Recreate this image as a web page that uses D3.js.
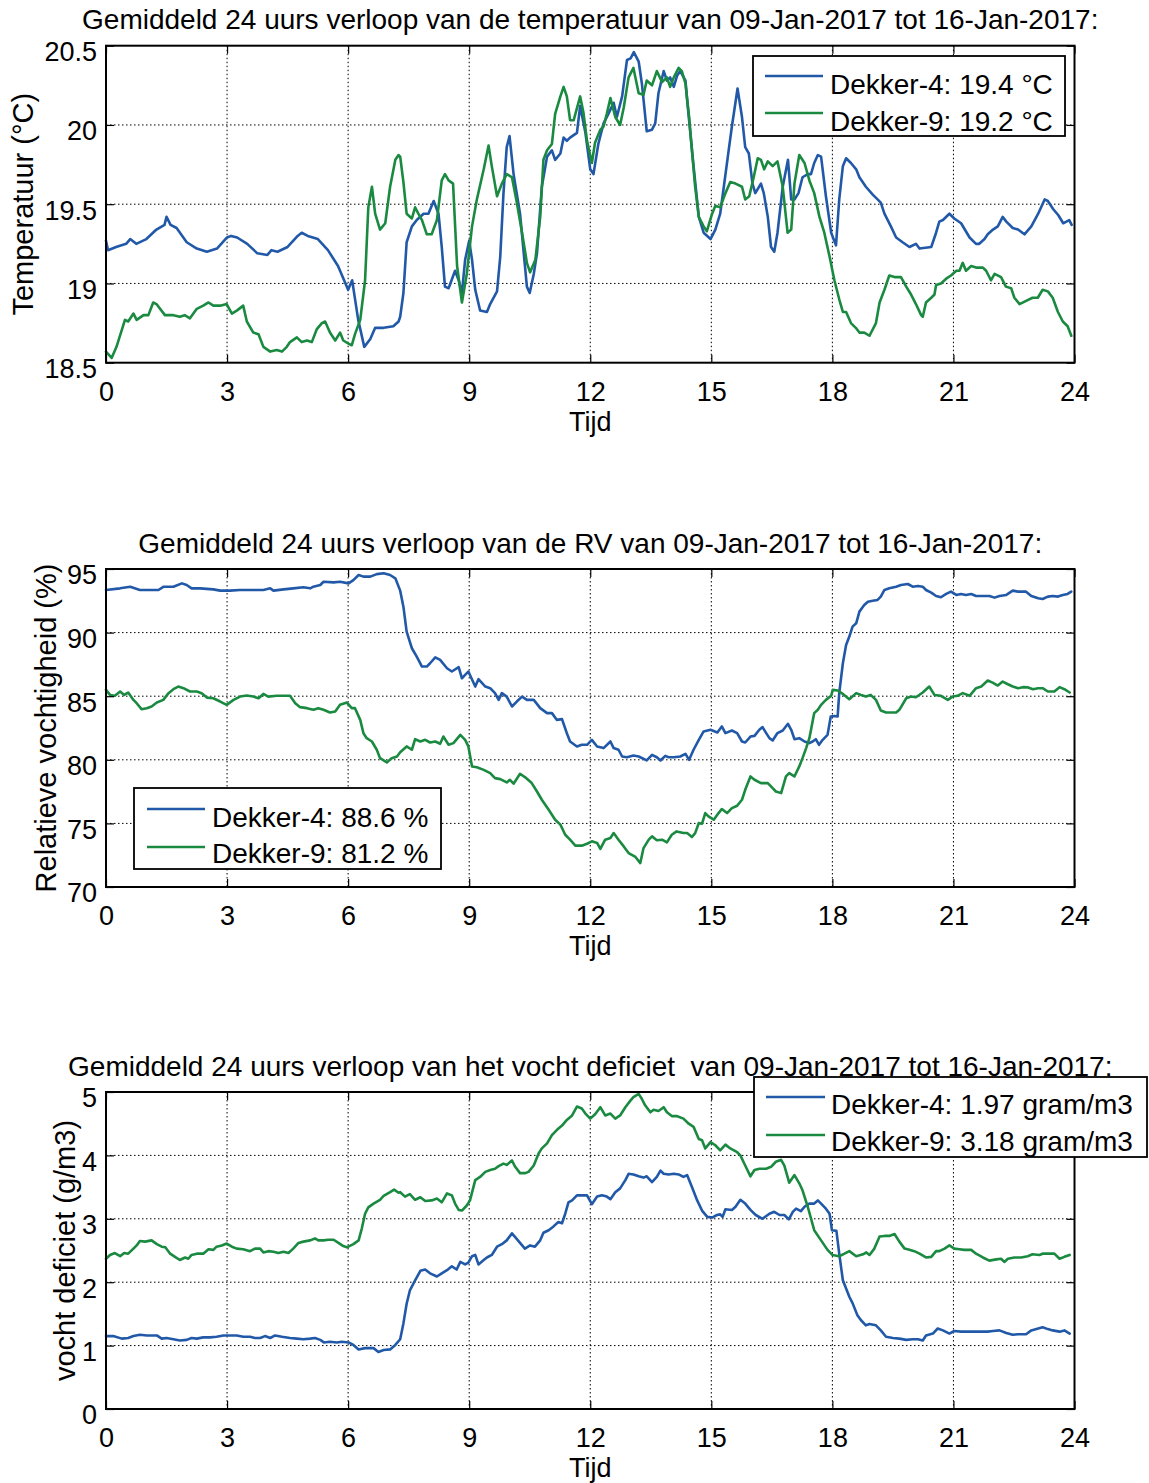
<!DOCTYPE html>
<html><head><meta charset="utf-8">
<script src="https://cdn.jsdelivr.net/npm/d3@7"></script>
<style>
body{margin:0;background:#fff;}
svg text{font-family:"Liberation Sans",Arial,Helvetica,sans-serif;fill:#000;}
</style></head><body><svg id="c" width="1149" height="1483" xmlns="http://www.w3.org/2000/svg"></svg>
<script>
// ---------- DATA ----------
const hourTicks = [0,3,6,9,12,15,18,21,24];
const seriesNames = ["Dekker-4","Dekker-9"];

const titleTemp = "Gemiddeld 24 uurs verloop van de temperatuur van 09-Jan-2017 tot 16-Jan-2017:";
const titleRV = "Gemiddeld 24 uurs verloop van de RV van 09-Jan-2017 tot 16-Jan-2017:";
const titleDef = "Gemiddeld 24 uurs verloop van het vocht deficiet  van 09-Jan-2017 tot 16-Jan-2017:";
const xLabel = "Tijd";
const yLabelTemp = "Temperatuur (°C)";
const yLabelRV = "Relatieve vochtigheid (%)";
const yLabelDef = "vocht deficiet (g/m3)";

const tempTicks = [18.5,19,19.5,20,20.5];
const rvTicks = [70,75,80,85,90,95];
const defTicks = [0,1,2,3,4,5];

const tempLegend = ["Dekker-4: 19.4 °C","Dekker-9: 19.2 °C"];
const rvLegend = ["Dekker-4: 88.6 %","Dekker-9: 81.2 %"];
const defLegend = ["Dekker-4: 1.97 gram/m3","Dekker-9: 3.18 gram/m3"];

// [hour, °C]
const temp4 = [[0,19.27],[0.05,19.21],[0.25,19.23],[0.5,19.25],[0.6,19.28],[0.75,19.25],[1.0,19.28],[1.25,19.34],[1.45,19.37],[1.5,19.42],[1.6,19.37],[1.75,19.35],[2.0,19.26],[2.25,19.22],[2.5,19.20],[2.75,19.22],[3.0,19.29],[3.1,19.3],[3.25,19.29],[3.5,19.25],[3.75,19.19],[4.0,19.18],[4.1,19.21],[4.25,19.20],[4.5,19.23],[4.75,19.30],[4.85,19.32],[5.0,19.30],[5.25,19.28],[5.5,19.21],[5.75,19.11],[6.0,18.96],[6.1,19.02],[6.25,18.77],[6.4,18.60],[6.55,18.65],[6.67,18.72],[6.88,18.72],[7.12,18.73],[7.25,18.76],[7.29,18.79],[7.37,18.94],[7.45,19.26],[7.58,19.36],[7.7,19.40],[7.87,19.44],[7.99,19.44],[8.12,19.52],[8.24,19.44],[8.32,19.23],[8.4,18.98],[8.49,18.97],[8.65,19.08],[8.74,19.02],[8.82,18.94],[8.9,19.15],[9.0,19.27],[9.07,19.15],[9.15,18.96],[9.27,18.83],[9.44,18.82],[9.52,18.87],[9.69,18.95],[9.77,19.17],[9.85,19.57],[9.93,19.86],[10.0,19.93],[10.1,19.69],[10.26,19.44],[10.43,18.98],[10.5,18.94],[10.6,19.06],[10.68,19.19],[10.8,19.61],[10.93,19.80],[11.05,19.84],[11.13,19.78],[11.26,19.82],[11.34,19.92],[11.42,19.90],[11.5,19.92],[11.67,19.95],[11.75,20.12],[11.88,19.95],[12.0,19.72],[12.08,19.69],[12.2,19.88],[12.33,20.01],[12.45,20.07],[12.58,20.14],[12.66,20.05],[12.79,20.18],[12.91,20.41],[13.0,20.42],[13.08,20.46],[13.2,20.40],[13.28,20.26],[13.4,19.96],[13.53,19.97],[13.61,20.01],[13.69,20.20],[13.82,20.34],[13.9,20.28],[13.98,20.30],[14.07,20.24],[14.15,20.31],[14.23,20.34],[14.36,20.28],[14.4,20.16],[14.56,19.74],[14.69,19.42],[14.81,19.32],[14.98,19.28],[15.1,19.34],[15.22,19.44],[15.31,19.61],[15.43,19.84],[15.51,19.99],[15.65,20.23],[15.76,20.05],[15.84,19.86],[15.93,19.82],[16.02,19.63],[16.09,19.57],[16.23,19.63],[16.3,19.57],[16.4,19.42],[16.48,19.23],[16.56,19.20],[16.64,19.32],[16.77,19.61],[16.9,19.78],[16.98,19.53],[17.06,19.53],[17.16,19.57],[17.26,19.67],[17.39,19.69],[17.47,19.69],[17.55,19.76],[17.64,19.81],[17.72,19.80],[17.84,19.55],[17.97,19.32],[18.09,19.24],[18.17,19.53],[18.26,19.74],[18.34,19.79],[18.46,19.76],[18.59,19.72],[18.67,19.67],[18.83,19.61],[19.0,19.56],[19.12,19.53],[19.2,19.51],[19.29,19.44],[19.45,19.36],[19.58,19.29],[19.74,19.26],[19.91,19.23],[20.07,19.25],[20.16,19.22],[20.45,19.23],[20.57,19.32],[20.65,19.39],[20.74,19.40],[20.9,19.44],[21.02,19.41],[21.19,19.38],[21.4,19.29],[21.56,19.25],[21.64,19.25],[21.77,19.28],[21.85,19.31],[21.98,19.34],[22.1,19.36],[22.22,19.42],[22.31,19.39],[22.47,19.35],[22.6,19.34],[22.76,19.31],[22.93,19.36],[23.1,19.44],[23.26,19.53],[23.34,19.52],[23.47,19.47],[23.6,19.43],[23.72,19.38],[23.8,19.39],[23.87,19.40],[23.93,19.37]];
const temp9 = [[0,18.57],[0.14,18.53],[0.26,18.60],[0.47,18.77],[0.55,18.76],[0.68,18.81],[0.76,18.77],[0.93,18.80],[1.05,18.80],[1.17,18.88],[1.25,18.87],[1.46,18.80],[1.67,18.80],[1.83,18.79],[1.95,18.80],[2.08,18.78],[2.25,18.84],[2.41,18.86],[2.54,18.88],[2.66,18.86],[2.83,18.86],[2.99,18.87],[3.12,18.81],[3.25,18.83],[3.4,18.86],[3.49,18.76],[3.65,18.69],[3.78,18.68],[3.9,18.60],[4.07,18.57],[4.23,18.58],[4.36,18.57],[4.48,18.60],[4.56,18.63],[4.73,18.66],[4.85,18.63],[4.98,18.64],[5.1,18.63],[5.22,18.71],[5.35,18.75],[5.43,18.76],[5.55,18.69],[5.68,18.64],[5.8,18.69],[5.88,18.64],[6.01,18.62],[6.09,18.61],[6.17,18.68],[6.3,18.77],[6.42,19.02],[6.5,19.48],[6.59,19.61],[6.67,19.44],[6.79,19.34],[6.92,19.38],[7.04,19.61],[7.17,19.78],[7.25,19.81],[7.29,19.80],[7.37,19.64],[7.45,19.44],[7.58,19.41],[7.66,19.48],[7.74,19.44],[7.83,19.40],[7.95,19.31],[8.07,19.31],[8.2,19.40],[8.32,19.65],[8.4,19.69],[8.49,19.65],[8.6,19.63],[8.7,19.11],[8.82,18.88],[8.94,19.06],[9.07,19.36],[9.19,19.53],[9.36,19.72],[9.48,19.87],[9.56,19.74],[9.69,19.55],[9.81,19.63],[9.93,19.69],[10.06,19.67],[10.18,19.51],[10.31,19.32],[10.43,19.13],[10.51,19.07],[10.64,19.15],[10.76,19.42],[10.84,19.78],[10.93,19.84],[11.05,19.88],[11.13,20.07],[11.26,20.18],[11.34,20.24],[11.42,20.18],[11.5,20.03],[11.59,20.03],[11.75,20.18],[11.83,20.08],[11.92,19.90],[12.04,19.76],[12.12,19.89],[12.25,19.97],[12.33,19.99],[12.41,20.07],[12.5,20.17],[12.62,20.05],[12.74,20.00],[12.83,20.11],[12.95,20.30],[13.07,20.36],[13.2,20.20],[13.32,20.19],[13.4,20.28],[13.53,20.25],[13.65,20.34],[13.78,20.27],[13.9,20.30],[13.98,20.24],[14.07,20.30],[14.19,20.36],[14.27,20.34],[14.36,20.26],[14.45,20.05],[14.52,19.84],[14.6,19.61],[14.69,19.42],[14.81,19.36],[14.89,19.33],[15.02,19.44],[15.1,19.49],[15.22,19.48],[15.35,19.57],[15.47,19.64],[15.6,19.63],[15.76,19.61],[15.84,19.53],[15.94,19.55],[16.05,19.67],[16.15,19.79],[16.23,19.78],[16.31,19.72],[16.4,19.77],[16.52,19.74],[16.64,19.77],[16.77,19.61],[16.89,19.32],[16.98,19.34],[17.06,19.63],[17.18,19.81],[17.31,19.76],[17.43,19.65],[17.55,19.57],[17.68,19.42],[17.8,19.32],[17.93,19.17],[18.05,19.02],[18.17,18.90],[18.26,18.82],[18.34,18.82],[18.46,18.75],[18.58,18.72],[18.67,18.69],[18.79,18.69],[18.92,18.67],[19.08,18.75],[19.17,18.88],[19.29,18.96],[19.41,19.05],[19.54,19.04],[19.7,19.04],[19.83,18.98],[19.95,18.93],[20.07,18.87],[20.2,18.80],[20.24,18.79],[20.32,18.88],[20.45,18.91],[20.53,18.93],[20.57,18.99],[20.69,19.0],[20.82,19.03],[20.94,19.05],[21.07,19.08],[21.15,19.08],[21.23,19.13],[21.31,19.08],[21.44,19.11],[21.56,19.10],[21.73,19.10],[21.81,19.08],[21.93,19.02],[22.02,19.06],[22.18,19.04],[22.3,18.98],[22.43,18.97],[22.51,18.91],[22.64,18.87],[22.8,18.89],[22.96,18.91],[23.09,18.91],[23.21,18.96],[23.34,18.95],[23.46,18.91],[23.59,18.82],[23.71,18.76],[23.83,18.73],[23.92,18.67]];

// [hour, %]
const rv4 = [[0,93.35],[0.35,93.48],[0.6,93.6],[0.84,93.35],[1.09,93.35],[1.3,93.35],[1.42,93.6],[1.67,93.6],[1.88,93.87],[2.0,93.74],[2.12,93.48],[2.33,93.48],[2.66,93.4],[2.83,93.3],[3.07,93.3],[3.32,93.35],[3.65,93.35],[3.9,93.35],[4.07,93.48],[4.15,93.3],[4.4,93.4],[4.64,93.48],[4.89,93.56],[5.06,93.48],[5.14,93.61],[5.31,93.74],[5.39,94.0],[5.64,93.95],[5.8,94.0],[6.01,93.87],[6.13,94.13],[6.26,94.53],[6.38,94.4],[6.55,94.4],[6.71,94.6],[6.88,94.66],[7.04,94.53],[7.17,94.27],[7.29,93.3],[7.37,92.04],[7.45,90.08],[7.58,88.77],[7.7,88.11],[7.83,87.33],[7.95,87.33],[8.03,87.59],[8.16,88.06],[8.28,87.85],[8.45,87.2],[8.57,86.94],[8.74,87.28],[8.82,86.41],[8.9,86.67],[8.98,86.94],[9.15,85.76],[9.23,86.34],[9.4,85.76],[9.52,85.63],[9.64,85.24],[9.73,84.71],[9.81,85.24],[9.93,84.97],[10.06,84.19],[10.18,84.58],[10.31,84.97],[10.43,84.71],[10.6,84.71],[10.76,84.06],[10.93,83.67],[11.05,83.67],[11.17,83.14],[11.3,83.2],[11.42,82.09],[11.5,81.44],[11.67,81.05],[11.79,81.18],[11.92,81.18],[12.04,81.57],[12.17,81.05],[12.33,80.92],[12.5,81.44],[12.58,80.92],[12.7,80.79],[12.79,80.26],[12.91,80.2],[13.07,80.34],[13.2,80.26],[13.4,79.95],[13.53,80.39],[13.65,80.2],[13.74,79.95],[13.86,80.31],[13.94,80.2],[14.07,80.2],[14.23,80.26],[14.36,80.47],[14.45,80.0],[14.56,80.79],[14.69,81.57],[14.81,82.23],[14.98,82.36],[15.15,82.15],[15.26,82.62],[15.35,82.1],[15.51,82.3],[15.64,82.1],[15.76,81.44],[15.84,81.36],[15.97,81.83],[16.07,81.88],[16.19,82.36],[16.27,82.57],[16.36,82.1],[16.44,81.7],[16.52,81.52],[16.64,82.1],[16.77,82.3],[16.9,82.83],[16.98,82.36],[17.06,81.62],[17.18,81.7],[17.31,81.44],[17.43,81.31],[17.51,81.44],[17.59,81.62],[17.67,81.18],[17.76,81.57],[17.88,81.96],[17.96,83.4],[18.05,83.45],[18.13,83.4],[18.17,85.24],[18.26,87.59],[18.34,89.03],[18.42,89.69],[18.5,90.47],[18.59,90.73],[18.67,91.65],[18.79,92.17],[18.88,92.43],[19.0,92.5],[19.12,92.57],[19.2,92.83],[19.29,93.35],[19.41,93.48],[19.58,93.61],[19.7,93.74],[19.87,93.82],[19.99,93.61],[20.12,93.67],[20.24,93.61],[20.32,93.35],[20.45,93.14],[20.57,92.88],[20.69,92.78],[20.82,93.04],[20.94,93.22],[21.07,92.96],[21.19,93.04],[21.31,92.96],[21.44,93.04],[21.56,92.88],[21.73,92.88],[21.89,92.88],[22.02,92.75],[22.14,92.88],[22.31,92.96],[22.47,93.3],[22.6,93.22],[22.8,93.22],[22.93,92.88],[23.1,92.7],[23.21,92.64],[23.34,92.83],[23.46,92.88],[23.59,92.83],[23.71,92.96],[23.83,93.04],[23.92,93.22]];
const rv9 = [[0,85.5],[0.1,85.1],[0.22,85.03],[0.35,85.37],[0.45,85.1],[0.55,85.29],[0.68,84.71],[0.76,84.45],[0.88,83.98],[1.01,84.06],[1.13,84.19],[1.26,84.5],[1.42,84.71],[1.55,85.24],[1.67,85.55],[1.79,85.76],[1.92,85.63],[2.08,85.37],[2.25,85.37],[2.37,85.24],[2.5,84.89],[2.66,84.84],[2.83,84.58],[2.99,84.32],[3.16,84.71],[3.32,84.97],[3.49,85.05],[3.65,84.97],[3.78,84.84],[3.9,85.18],[4.02,84.97],[4.23,85.03],[4.4,85.03],[4.56,85.03],[4.69,84.45],[4.81,84.14],[4.98,84.06],[5.14,83.93],[5.26,84.06],[5.39,83.93],[5.55,83.72],[5.68,83.8],[5.8,84.32],[5.97,84.5],[6.09,84.06],[6.17,84.06],[6.3,83.14],[6.38,82.09],[6.46,81.7],[6.59,81.44],[6.71,80.79],[6.79,80.13],[6.96,79.79],[7.08,80.13],[7.21,80.26],[7.29,80.6],[7.45,81.05],[7.58,80.79],[7.66,81.62],[7.79,81.44],[7.91,81.57],[8.03,81.36],[8.16,81.44],[8.28,81.26],[8.36,81.83],[8.49,81.18],[8.61,81.31],[8.78,81.96],[8.9,81.57],[8.98,81.05],[9.07,79.48],[9.19,79.42],[9.36,79.21],[9.52,78.95],[9.64,78.56],[9.77,78.48],[9.93,78.22],[10.01,78.43],[10.1,78.12],[10.26,78.9],[10.38,78.64],[10.55,78.17],[10.68,77.51],[10.8,76.86],[10.97,76.07],[11.13,75.29],[11.26,74.9],[11.38,74.11],[11.5,73.72],[11.63,73.25],[11.79,73.25],[11.92,73.4],[12.04,73.59],[12.17,73.46],[12.25,73.0],[12.37,73.72],[12.5,73.85],[12.58,74.24],[12.7,73.72],[12.83,73.19],[12.95,72.67],[13.12,72.36],[13.24,71.88],[13.32,73.06],[13.45,73.72],[13.53,73.98],[13.65,73.67],[13.78,73.72],[13.9,73.51],[14.02,74.11],[14.14,74.37],[14.31,74.24],[14.4,74.24],[14.52,73.93],[14.6,74.24],[14.69,75.03],[14.77,74.98],[14.85,75.81],[14.93,75.55],[15.06,75.29],[15.18,75.81],[15.26,76.13],[15.39,75.81],[15.51,76.2],[15.64,76.39],[15.76,76.86],[15.84,77.64],[15.97,78.69],[16.07,78.43],[16.23,78.17],[16.4,78.17],[16.52,77.77],[16.6,77.51],[16.73,77.38],[16.85,78.69],[16.93,78.95],[17.06,78.69],[17.18,79.48],[17.26,80.13],[17.35,80.92],[17.43,81.7],[17.55,83.67],[17.64,83.93],[17.72,84.32],[17.84,84.71],[17.97,85.03],[18.01,85.5],[18.13,85.45],[18.26,85.18],[18.42,84.76],[18.59,85.24],[18.71,85.1],[18.83,84.97],[18.95,85.1],[19.08,84.71],[19.2,83.87],[19.33,83.72],[19.58,83.72],[19.66,83.93],[19.83,84.84],[19.95,84.97],[20.07,84.92],[20.24,85.29],[20.4,85.76],[20.53,85.1],[20.69,85.03],[20.86,84.71],[20.98,84.97],[21.1,85.03],[21.23,85.24],[21.4,85.03],[21.56,85.63],[21.69,85.76],[21.85,86.23],[21.97,86.07],[22.1,85.84],[22.22,86.15],[22.35,85.94],[22.47,85.76],[22.6,85.63],[22.72,85.71],[22.85,85.69],[22.97,85.55],[23.1,85.63],[23.21,85.63],[23.34,85.37],[23.5,85.37],[23.63,85.71],[23.75,85.55],[23.88,85.29]];

// [hour, g/m3]
const def4 = [[0,1.15],[0.18,1.15],[0.39,1.11],[0.55,1.12],[0.68,1.15],[0.84,1.17],[1.01,1.16],[1.26,1.16],[1.38,1.11],[1.5,1.12],[1.67,1.10],[1.83,1.08],[2.0,1.09],[2.12,1.12],[2.25,1.11],[2.41,1.13],[2.58,1.13],[2.74,1.14],[2.91,1.16],[3.07,1.16],[3.24,1.16],[3.4,1.14],[3.57,1.14],[3.69,1.12],[3.82,1.12],[3.94,1.15],[4.07,1.12],[4.19,1.16],[4.36,1.14],[4.56,1.12],[4.73,1.11],[4.89,1.10],[5.06,1.11],[5.18,1.12],[5.31,1.09],[5.4,1.05],[5.55,1.06],[5.72,1.05],[5.84,1.06],[6.01,1.05],[6.13,1.01],[6.26,0.94],[6.42,0.96],[6.63,0.96],[6.75,0.90],[6.88,0.93],[7.04,0.94],[7.17,1.01],[7.29,1.10],[7.37,1.35],[7.45,1.66],[7.53,1.87],[7.66,2.03],[7.79,2.18],[7.91,2.20],[8.03,2.14],[8.2,2.09],[8.32,2.14],[8.45,2.19],[8.57,2.25],[8.69,2.20],[8.78,2.32],[8.9,2.28],[8.98,2.31],[9.07,2.41],[9.15,2.43],[9.23,2.28],[9.36,2.35],[9.44,2.39],[9.56,2.43],[9.69,2.56],[9.81,2.60],[9.93,2.66],[10.06,2.77],[10.14,2.71],[10.26,2.62],[10.38,2.53],[10.51,2.58],[10.63,2.56],[10.76,2.66],[10.84,2.78],[10.97,2.82],[11.09,2.88],[11.21,2.95],[11.3,2.93],[11.38,3.08],[11.46,3.26],[11.55,3.29],[11.67,3.37],[11.79,3.37],[11.92,3.37],[12.04,3.23],[12.17,3.35],[12.29,3.37],[12.41,3.35],[12.5,3.31],[12.62,3.42],[12.74,3.48],[12.87,3.61],[12.95,3.71],[13.07,3.70],[13.2,3.67],[13.32,3.65],[13.4,3.67],[13.53,3.58],[13.65,3.66],[13.74,3.76],[13.82,3.71],[13.94,3.70],[14.07,3.71],[14.19,3.70],[14.31,3.66],[14.4,3.69],[14.52,3.50],[14.65,3.29],[14.77,3.13],[14.9,3.03],[15.02,3.02],[15.14,3.06],[15.22,3.07],[15.28,3.03],[15.35,3.15],[15.51,3.14],[15.6,3.19],[15.72,3.30],[15.84,3.24],[15.97,3.14],[16.1,3.06],[16.27,3.0],[16.44,3.08],[16.56,3.11],[16.69,3.06],[16.81,3.06],[16.92,2.99],[17.02,3.11],[17.1,3.16],[17.22,3.12],[17.31,3.19],[17.43,3.24],[17.55,3.24],[17.64,3.29],[17.72,3.24],[17.84,3.16],[17.93,3.08],[17.99,2.82],[18.1,2.81],[18.17,2.45],[18.26,2.03],[18.34,1.90],[18.42,1.77],[18.5,1.67],[18.62,1.48],[18.71,1.40],[18.83,1.32],[18.92,1.34],[19.08,1.32],[19.2,1.24],[19.33,1.14],[19.5,1.12],[19.66,1.11],[19.83,1.09],[19.99,1.10],[20.12,1.10],[20.24,1.08],[20.32,1.16],[20.49,1.19],[20.61,1.27],[20.74,1.24],[20.9,1.19],[21.02,1.23],[21.19,1.22],[21.4,1.22],[21.64,1.22],[21.85,1.22],[21.98,1.23],[22.14,1.24],[22.31,1.20],[22.47,1.17],[22.6,1.18],[22.8,1.18],[22.93,1.24],[23.1,1.27],[23.21,1.29],[23.34,1.26],[23.46,1.24],[23.63,1.22],[23.75,1.24],[23.88,1.19]];
const def9 = [[0,2.37],[0.1,2.43],[0.22,2.46],[0.35,2.41],[0.45,2.46],[0.55,2.45],[0.68,2.53],[0.76,2.58],[0.84,2.65],[0.97,2.64],[1.13,2.66],[1.26,2.60],[1.38,2.56],[1.47,2.55],[1.59,2.45],[1.71,2.40],[1.83,2.35],[1.96,2.39],[2.04,2.37],[2.12,2.43],[2.25,2.45],[2.41,2.45],[2.54,2.52],[2.66,2.51],[2.74,2.56],[2.87,2.58],[2.99,2.61],[3.12,2.56],[3.24,2.53],[3.4,2.52],[3.57,2.49],[3.69,2.53],[3.82,2.53],[3.9,2.47],[4.02,2.49],[4.15,2.48],[4.27,2.46],[4.4,2.48],[4.52,2.46],[4.64,2.53],[4.77,2.62],[4.89,2.64],[5.06,2.66],[5.18,2.69],[5.26,2.66],[5.39,2.66],[5.51,2.67],[5.64,2.67],[5.76,2.62],[5.88,2.57],[5.97,2.55],[6.13,2.60],[6.26,2.66],[6.34,2.85],[6.42,3.08],[6.5,3.18],[6.63,3.24],[6.79,3.30],[6.88,3.36],[7.04,3.42],[7.14,3.46],[7.25,3.41],[7.29,3.42],[7.41,3.35],[7.53,3.39],[7.66,3.30],[7.79,3.34],[7.91,3.28],[8.07,3.29],[8.2,3.32],[8.32,3.26],[8.45,3.40],[8.57,3.37],[8.65,3.24],[8.74,3.14],[8.82,3.13],[8.94,3.21],[9.02,3.29],[9.15,3.61],[9.27,3.66],[9.4,3.74],[9.52,3.77],[9.64,3.79],[9.73,3.83],[9.85,3.87],[9.93,3.85],[10.06,3.92],[10.14,3.82],[10.26,3.72],[10.38,3.72],[10.47,3.74],[10.6,3.84],[10.72,4.03],[10.8,4.11],[10.93,4.19],[11.05,4.32],[11.17,4.40],[11.3,4.47],[11.42,4.56],[11.55,4.63],[11.67,4.77],[11.79,4.74],[11.88,4.66],[12.0,4.58],[12.12,4.65],[12.25,4.76],[12.37,4.63],[12.5,4.66],[12.62,4.58],[12.74,4.63],[12.87,4.76],[12.99,4.86],[13.07,4.92],[13.2,4.97],[13.28,4.89],[13.36,4.79],[13.49,4.68],[13.57,4.72],[13.69,4.70],[13.82,4.76],[13.9,4.68],[14.02,4.62],[14.14,4.62],[14.31,4.58],[14.44,4.50],[14.56,4.45],[14.69,4.26],[14.77,4.24],[14.85,4.11],[14.98,4.21],[15.1,4.16],[15.22,4.08],[15.35,4.17],[15.47,4.11],[15.64,4.05],[15.72,4.0],[15.84,3.84],[15.97,3.67],[16.07,3.77],[16.19,3.79],[16.36,3.79],[16.48,3.82],[16.6,3.90],[16.73,3.93],[16.81,3.84],[16.93,3.57],[17.06,3.69],[17.18,3.56],[17.26,3.45],[17.39,3.19],[17.55,2.82],[17.72,2.66],[17.88,2.51],[18.0,2.43],[18.17,2.41],[18.3,2.45],[18.42,2.49],[18.59,2.41],[18.76,2.44],[18.84,2.47],[18.92,2.43],[19.04,2.53],[19.17,2.72],[19.29,2.73],[19.41,2.73],[19.54,2.76],[19.66,2.64],[19.79,2.53],[19.91,2.51],[20.03,2.49],[20.16,2.45],[20.32,2.39],[20.45,2.40],[20.57,2.49],[20.65,2.49],[20.78,2.53],[20.9,2.58],[21.02,2.53],[21.15,2.52],[21.27,2.51],[21.44,2.51],[21.56,2.45],[21.73,2.39],[21.89,2.34],[22.06,2.36],[22.18,2.37],[22.26,2.32],[22.35,2.37],[22.51,2.39],[22.68,2.39],[22.84,2.41],[22.96,2.44],[23.13,2.43],[23.21,2.45],[23.34,2.45],[23.5,2.45],[23.63,2.37],[23.75,2.40],[23.88,2.43]];

// ---------- LAYOUT / STYLE ----------
const COLORS = ["#2159a8", "#1b8a41"];
const FONT_TICK = 27, FONT_TITLE = 28, FONT_XLABEL = 27, FONT_YLABEL = 29, FONT_LEGEND = 28;
const L = 106, R = 1074.5;
const svg = d3.select("#c");
const x = d3.scaleLinear().domain([0, 24]).range([L, R]);

const panels = [
  {top:45.7, bottom:362.7, domain:[18.5,20.5], ticks:tempTicks, s:[temp4,temp9], title:titleTemp, titleY:29,
   ylabel:yLabelTemp, ylabelX:33, legend:tempLegend, lg:{x:753,y:56,w:312,h:80,lx1:765,lx2:823,tx:830,rows:[76,113],base:[94,131]}},
  {top:569, bottom:887, domain:[70,95], ticks:rvTicks, s:[rv4,rv9], title:titleRV, titleY:553,
   ylabel:yLabelRV, ylabelX:56, legend:rvLegend, lg:{x:134,y:788,w:307,h:81,lx1:147,lx2:205,tx:212,rows:[809,847],base:[827,863]}},
  {top:1092, bottom:1409, domain:[0,5], ticks:defTicks, s:[def4,def9], title:titleDef, titleY:1076,
   ylabel:yLabelDef, ylabelX:75, legend:defLegend, lg:{x:754,y:1077,w:393,h:80,lx1:766,lx2:825,tx:831,rows:[1097,1135],base:[1114,1151]}}
];

panels.forEach(p => {
  const y = d3.scaleLinear().domain(p.domain).range([p.bottom, p.top]);
  const g = svg.append("g");

  // dotted grid
  const grid = g.append("g").attr("stroke", "#000").attr("stroke-width", 1).attr("stroke-dasharray", "1.5,2.5");
  grid.selectAll(".vg").data(hourTicks.filter(t => t > 0 && t < 24)).join("line")
    .attr("x1", d => x(d)).attr("x2", d => x(d)).attr("y1", p.top).attr("y2", p.bottom);
  grid.selectAll(".hg").data(p.ticks.slice(1, -1)).join("line")
    .attr("x1", L).attr("x2", R).attr("y1", d => y(d)).attr("y2", d => y(d));

  // series
  const line = d3.line().x(d => x(d[0])).y(d => y(d[1]));
  p.s.forEach((ser, i) => {
    g.append("path").datum(ser).attr("d", line).attr("fill", "none")
      .attr("stroke", COLORS[i]).attr("stroke-width", 2.6)
      .attr("stroke-linejoin", "round").attr("stroke-linecap", "round");
  });

  // axes with inward ticks
  const ax = g.append("g").attr("transform", `translate(0,${p.bottom})`)
    .call(d3.axisBottom(x).tickValues(hourTicks).tickSizeInner(-8).tickSizeOuter(0).tickFormat(d3.format("d")));
  ax.selectAll("text").attr("y", 38).attr("dy", 0).style("font-size", FONT_TICK + "px");
  g.append("g").attr("transform", `translate(0,${p.top})`)
    .call(d3.axisTop(x).tickValues(hourTicks).tickSizeInner(-8).tickSizeOuter(0).tickFormat(""));
  const ay = g.append("g").attr("transform", `translate(${L},0)`)
    .call(d3.axisLeft(y).tickValues(p.ticks).tickSizeInner(-8).tickSizeOuter(0).tickFormat(d => String(d)));
  ay.selectAll("text").attr("x", -9).attr("dy", "0.55em").style("font-size", FONT_TICK + "px");
  g.append("g").attr("transform", `translate(${R},0)`)
    .call(d3.axisRight(y).tickValues(p.ticks).tickSizeInner(-8).tickSizeOuter(0).tickFormat(""));
  g.selectAll(".domain").remove();
  g.selectAll(".tick line").attr("stroke", "#000").attr("stroke-width", 1.2);

  // box
  g.append("rect").attr("x", L).attr("y", p.top).attr("width", R - L).attr("height", p.bottom - p.top)
    .attr("fill", "none").attr("stroke", "#000").attr("stroke-width", 2);

  // title & labels
  g.append("text").attr("x", (L + R) / 2).attr("y", p.titleY).attr("text-anchor", "middle")
    .style("font-size", FONT_TITLE + "px").style("white-space", "pre").attr("xml:space", "preserve").text(p.title);
  g.append("text").attr("x", (L + R) / 2).attr("y", p.bottom + 68).attr("text-anchor", "middle")
    .style("font-size", FONT_XLABEL + "px").text(xLabel);
  g.append("text").attr("transform", `translate(${p.ylabelX},${(p.top + p.bottom) / 2}) rotate(-90)`)
    .attr("text-anchor", "middle").style("font-size", FONT_YLABEL + "px").text(p.ylabel);

  // legend
  const lg = p.lg;
  const lgG = svg.append("g");
  lgG.append("rect").attr("x", lg.x).attr("y", lg.y).attr("width", lg.w).attr("height", lg.h)
    .attr("fill", "#fff").attr("stroke", "#000").attr("stroke-width", 1.8);
  p.legend.forEach((lab, i) => {
    lgG.append("line").attr("x1", lg.lx1).attr("x2", lg.lx2).attr("y1", lg.rows[i]).attr("y2", lg.rows[i])
      .attr("stroke", COLORS[i]).attr("stroke-width", 2.6);
    lgG.append("text").attr("x", lg.tx).attr("y", lg.base[i]).style("font-size", FONT_LEGEND + "px").text(lab);
  });
});
</script></body></html>
